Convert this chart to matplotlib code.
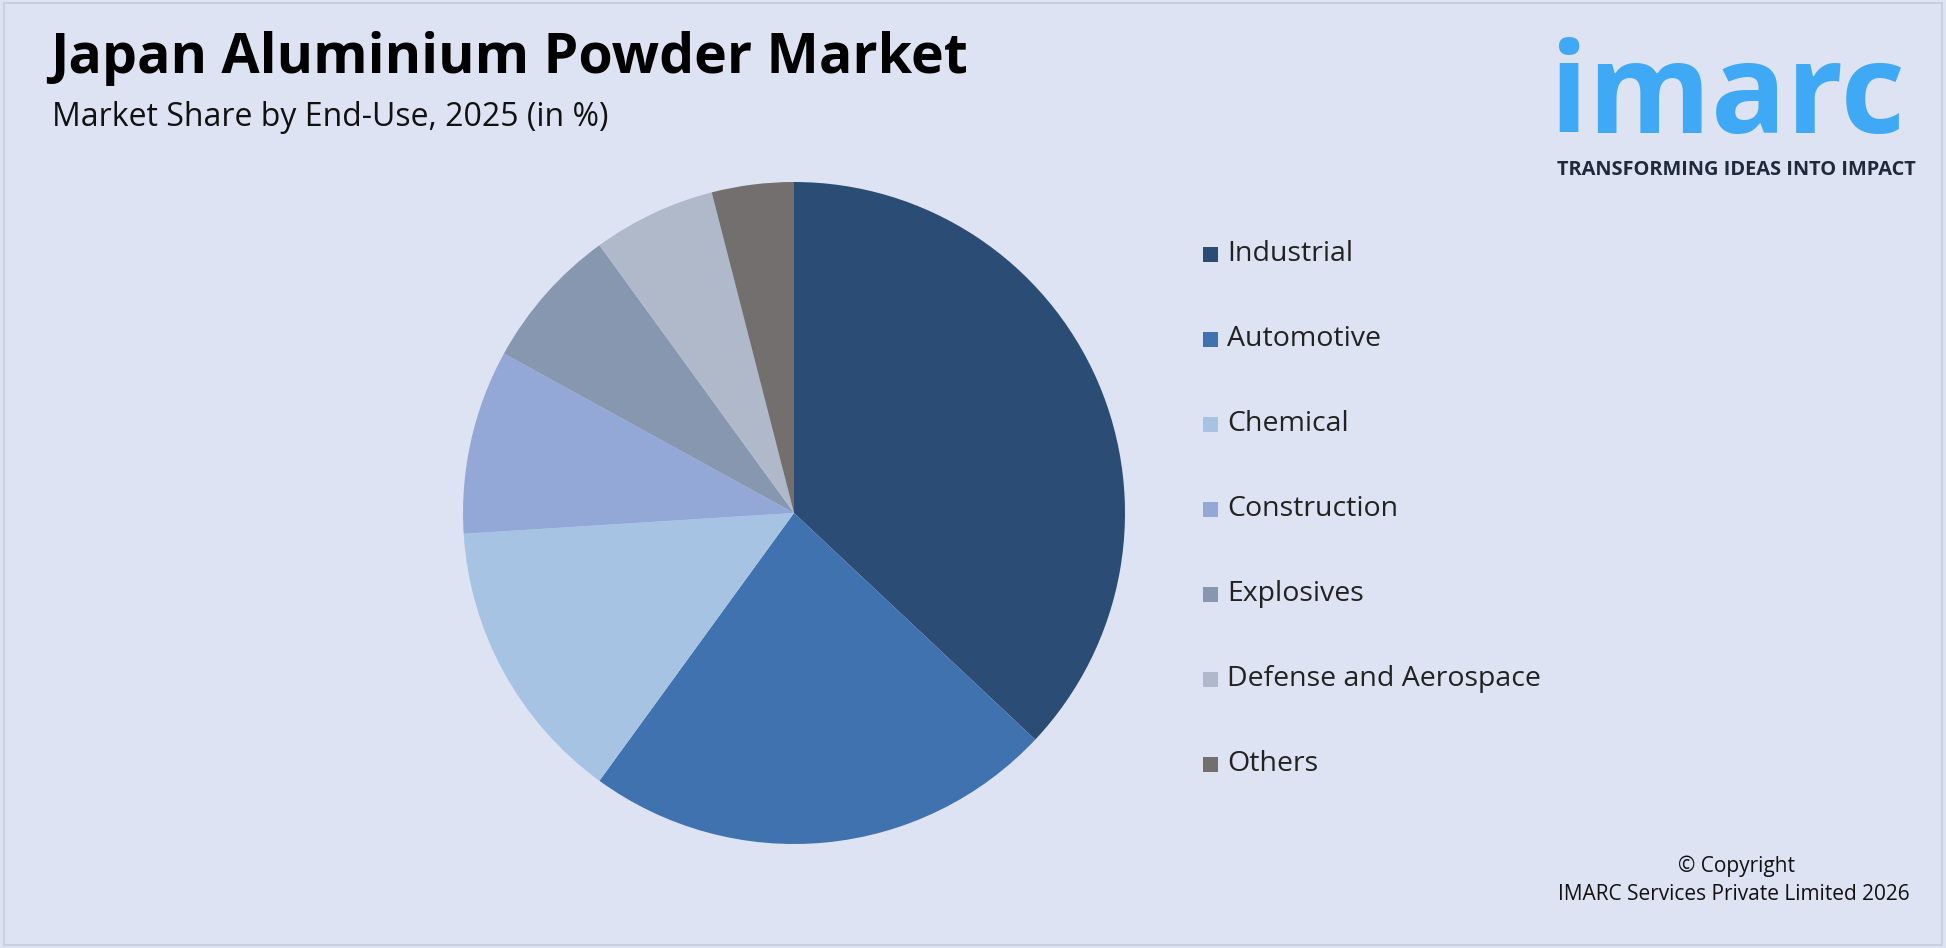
import matplotlib
matplotlib.use("Agg")
import matplotlib.pyplot as plt
from matplotlib.patches import Rectangle

categories = ["Industrial", "Automotive", "Chemical", "Construction", "Explosives", "Defense and Aerospace", "Others"]
shares = [37, 23, 14, 9, 7, 6, 4]
colors = ["#2B4C74", "#4072B0", "#A6C3E3", "#94A8D8", "#8797AF", "#AFB9C9", "#736F6F"]

plt.rcParams['font.family'] = ['Open Sans', 'DejaVu Sans']
W, H = 1946, 948
fig = plt.figure(figsize=(W/100, H/100), dpi=100)
bg = "#DDE3F2"
fig.patch.set_facecolor(bg)
fig.patches.append(Rectangle((0.002, 0.003), 0.996, 0.994, transform=fig.transFigure,
                             fill=False, edgecolor="#C8CFDD", lw=1.5))

cx, cy, r = 794, 513, 331
ax = fig.add_axes([(cx-r)/W, 1-(cy+r)/H, 2*r/W, 2*r/H])
ax.pie(shares, colors=colors, startangle=90, counterclock=False,
       wedgeprops=dict(linewidth=0))
ax.set_xlim(-1, 1); ax.set_ylim(-1, 1)
ax.set_aspect('equal')

fig.text(50/W, 1-58/H, "Japan Aluminium Powder Market", fontsize=40, fontweight='bold', va='center', color='black')
fig.text(52/W, 1-117/H, "Market Share by End-Use, 2025 (in %)", fontsize=23, va='center', color='#111111')

y0, dy = 254, 85
for i, (c, col) in enumerate(zip(categories, colors)):
    y = y0 + i*dy
    fig.patches.append(Rectangle((1203/W, 1-(y+8)/H), 15/W, 15/H, transform=fig.transFigure,
                                 facecolor=col, edgecolor='none'))
    fig.text(1227/W, 1-y/H, c, fontsize=20.5, va='center', color='#222222')

# logo
fig.text(1550/W, 1-100/H, "imarc", fontsize=90, fontweight='bold', color="#3FA9F5", va='center', ha='left')
fig.text(1557/W, 1-170/H, "TRANSFORMING IDEAS INTO IMPACT", fontsize=14.4, fontweight='bold', color="#1F2A3A", va='center')

fig.text(1737/W, 1-866/H, "© Copyright", fontsize=15, ha='center', va='center', color='#111111')
fig.text(1910/W, 1-894/H, "IMARC Services Private Limited 2026", fontsize=15, ha='right', va='center', color='#111111')

fig.savefig("out.png", dpi=100, facecolor=bg)
